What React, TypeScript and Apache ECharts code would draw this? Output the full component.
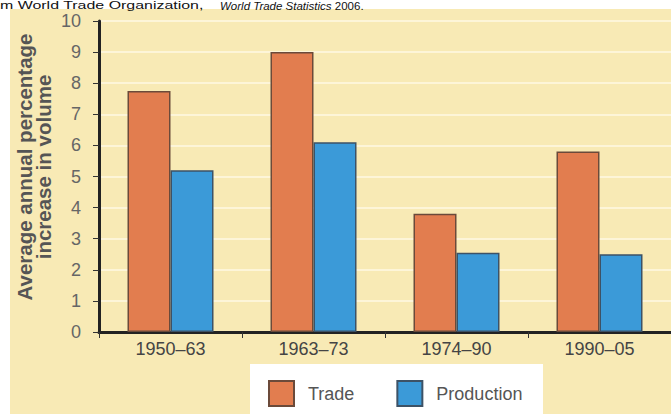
import React, { useEffect, useRef } from "react";
import * as echarts from "echarts";

const periods = ["1950–63", "1963–73", "1974–90", "1990–05"];
const tradeValues = [7.75, 9.0, 3.8, 5.8];
const productionValues = [5.2, 6.1, 2.55, 2.5];
const seriesNames = ["Trade", "Production"];
const yAxisTitle = "Average annual percentage\nincrease in volume";
const sourcePrefix = "m World Trade Organization,";
const sourceTitle = "World Trade Statistics";
const sourceYear = " 2006.";

export default function App() {
  const ref = useRef<HTMLDivElement>(null);
  useEffect(() => {
    if (!ref.current) return;
    const chart = echarts.init(ref.current, undefined, { renderer: "svg" });
    const font = "'Liberation Sans', Arial, Helvetica, sans-serif";
    chart.setOption({
      animation: false,
      backgroundColor: "#ffffff",
      textStyle: { fontFamily: font },
      graphic: [
        {
          type: "rect",
          z: -10,
          silent: true,
          shape: { x: 10, y: 9, width: 661, height: 405 },
          style: { fill: "#f8eab5" },
        },
        {
          type: "rect",
          z: -5,
          silent: true,
          shape: { x: 250, y: 364, width: 293, height: 50 },
          style: { fill: "#ffffff" },
        },
        {
          type: "text",
          x: 0,
          y: 0,
          scaleX: 1.45,
          style: { text: sourcePrefix, font: `11px ${font}`, fill: "#111" },
        },
        {
          type: "text",
          x: 220,
          y: 0,
          style: {
            text: `{i|${sourceTitle}}{n|${sourceYear}}`,
            rich: {
              i: { font: `italic 11.5px ${font}`, fill: "#111" },
              n: { font: `11.5px ${font}`, fill: "#111" },
            },
          },
        },
        {
          type: "text",
          x: 34,
          y: 167,
          rotation: Math.PI / 2,
          style: {
            text: yAxisTitle,
            font: `bold 20.5px ${font}`,
            fill: "#555",
            align: "center",
            verticalAlign: "middle",
            lineHeight: 19,
          },
        },
      ],
      legend: {
        left: 268,
        top: 380,
        padding: 0,
        icon: "rect",
        itemWidth: 25,
        itemHeight: 25,
        itemGap: 42,
        data: seriesNames,
        textStyle: {
          fontFamily: font,
          fontSize: 18,
          color: "#555",
          padding: [0, 0, 0, 9],
        },
      },
      grid: { left: 99, top: 21, width: 577, height: 311 },
      xAxis: {
        type: "category",
        data: periods,
        axisLine: { lineStyle: { color: "#222", width: 3 } },
        axisTick: { show: true, length: 6, lineStyle: { color: "#333", width: 1 } },
        axisLabel: { fontSize: 18, color: "#444", margin: 8, fontFamily: font },
      },
      yAxis: {
        type: "value",
        min: 0,
        max: 10,
        interval: 1,
        axisLine: { show: true, lineStyle: { color: "#222", width: 3 } },
        axisTick: { show: true, length: 6, lineStyle: { color: "#333", width: 1 } },
        axisLabel: { fontSize: 18, color: "#666", margin: 18, fontFamily: font },
        splitLine: { show: true, lineStyle: { color: "#fdf5d8", width: 2 } },
      },
      series: [
        {
          name: seriesNames[0],
          type: "bar",
          data: tradeValues,
          barWidth: 43,
          barGap: "0%",
          itemStyle: { color: "#e27d4f", borderColor: "#6b4a3a", borderWidth: 1.5 },
        },
        {
          name: seriesNames[1],
          type: "bar",
          data: productionValues,
          barWidth: 43,
          barGap: "0%",
          itemStyle: { color: "#3b9ad8", borderColor: "#3d5266", borderWidth: 1.5 },
        },
      ],
    });
    return () => chart.dispose();
  }, []);
  return (
    <div
      ref={ref}
      style={{ position: "fixed", left: 0, top: 0, width: 671, height: 414 }}
    />
  );
}
